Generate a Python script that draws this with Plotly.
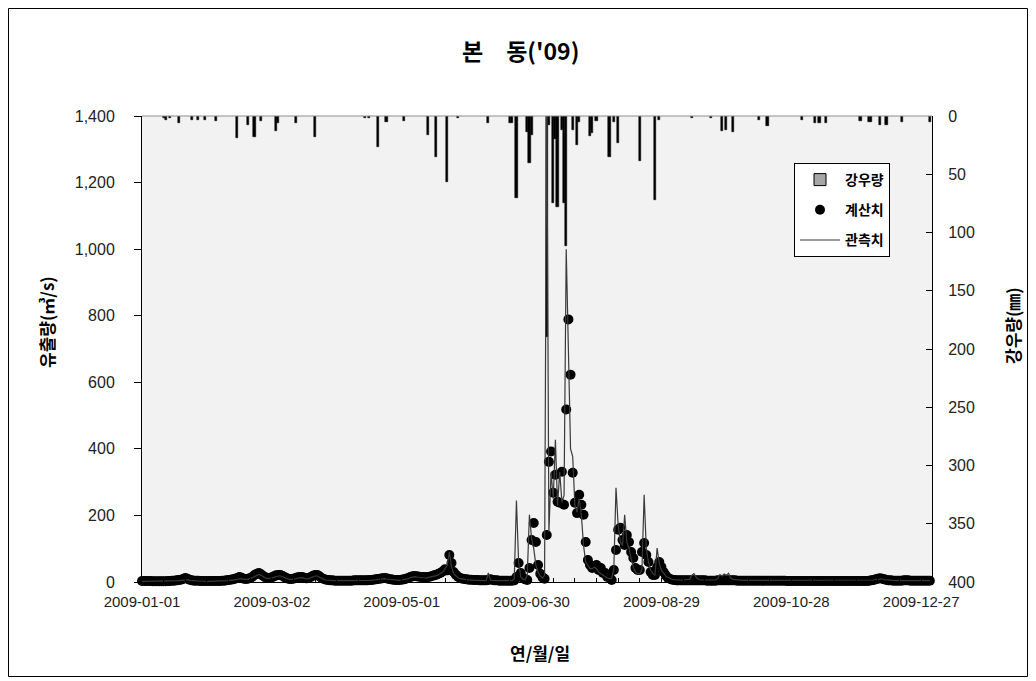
import pandas as pd
import plotly.graph_objects as go

# ---------------- data ----------------
# daily computed discharge (계산치), m3/s, 2009-01-01 .. 2009-12-31
calc_jan = [3,3,3,3,3,2,2,2,2,2, 2,2,3,3,4,4,5,6,7,9, 12,10,7,5,4,4,4,3,3,3, 3]
calc_feb = [3,3,3,3,3,3,4,4,5,6, 7,8,10,12,15,13,10,9,10,12, 16,21,25,27,23,18,14,12]
calc_mar = [12,14,17,20,21,21,18,14,11,9, 9,10,12,14,15,15,13,11,12,15, 19,21,21,17,12,9,7,6,5,5, 4]
calc_apr = [4,4,4,4,4,4,4,4,5,5, 5,5,5,5,5,6,6,7,8,9, 10,11,12,11,9,8,7,6,6,6]
calc_may = [7,8,10,12,15,17,18,17,16,15, 15,14,15,16,18,20,22,25,28,32, 38,35,81,57,30,22,16,12,10,9, 8]
calc_jun = [7,7,6,6,6,5,5,5,5,6, 8,6,5,5,4,4,4,4,4,4, 4,5,15,57,27,12,8,6,42,126]
calc_jul = [177,120,51,25,14,10,141,361,392,268, 322,241,238,331,232,518,789,623,328,238,
            207,262,232,202,120,66,51,42,45,51, 36]
calc_aug = [42,27,27,15,15,6,36,96,157,163, 126,111,141,120,90,72,42,36,36,90,
            117,81,60,30,21,21,45,60,45,30, 20]
calc_sep = [12,9,7,6,5,5,5,5,5,5, 5,5,5,5,5,5,5,5,4,4, 4,4,4,5,5,5,5,5,5,5]
calc_oct = [5,5,4,4,4,4,4,4,4,4, 4,4,4,4,4,4,4,4,4,4, 4,4,4,4,4,3,3,3,3,3, 3]
calc_nov = [3,3,3,3,3,3,3,3,3,3, 3,3,3,3,3,3,3,3,3,3, 3,3,3,3,3,3,3,3,3,3]
calc_dec = [3,3,4,5,6,8,10,11,10,8, 6,5,5,4,4,4,4,4,5,5, 5,4,4,4,4,4,4,4,4,4, 4]

# daily observed discharge (관측치), m3/s
obs_jan = [2,2,2,2,2,2,2,2,2,2, 2,2,2,3,3,3,4,4,5,6, 8,7,5,4,3,3,3,3,2,2, 2]
obs_feb = [2,2,2,2,2,3,3,3,4,4, 5,6,7,9,11,10,8,7,8,10, 13,17,21,23,20,15,12,10]
obs_mar = [10,12,14,17,18,18,15,12,9,8, 8,8,10,12,13,13,11,9,10,13, 16,18,18,14,10,8,6,5,4,4, 4]
obs_apr = [4,4,4,3,3,3,3,3,4,4, 4,4,4,4,4,5,5,6,7,8, 9,10,10,9,8,7,6,5,5,5]
obs_may = [6,7,8,10,13,15,16,15,14,13, 13,12,13,14,15,17,19,22,25,30, 40,50,90,45,25,18,13,10,8,8, 7]
obs_jun = [6,6,5,5,5,5,4,4,4,27, 6,5,4,4,4,4,4,4,4,4, 4,10,245,60,15,8,6,20,202,130]
obs_jul = [100,50,30,18,12,20,1500,150,330,250, 427,230,330,240,260,1000,650,400,377,230,
           210,250,200,110,60,50,40,40,45,40, 30]
obs_aug = [25,20,15,12,10,10,40,283,170,120, 110,202,120,100,70,45,30,25,25,40,
           262,100,60,35,25,20,102,55,35,25, 18]
obs_sep = [14,10,8,7,6,6,6,6,6,6, 8,20,25,15,8,6,6,6,6,6, 6,6,6,10,22,18,24,20,26,12]
obs_oct = [8,7,6,6,5,5,5,5,5,5, 5,5,5,5,5,5,5,5,5,5, 5,5,4,4,4,4,4,4,4,4, 4]
obs_nov = [4,4,4,4,4,4,4,4,4,4, 4,4,4,4,4,4,4,4,4,4, 4,4,4,4,4,4,4,4,4,4]
obs_dec = [4,4,4,5,6,8,9,10,9,7, 6,5,5,4,4,4,4,4,5,5, 5,4,4,4,4,4,4,4,4,4, 4]

# rainfall (강우량), mm — only rainy days listed
rain_dates = ["2009-01-11","2009-01-12","2009-01-14","2009-01-18","2009-01-24","2009-01-27","2009-01-30",
              "2009-02-04","2009-02-14","2009-02-19","2009-02-22","2009-02-25",
              "2009-03-04","2009-03-05","2009-03-13","2009-03-22",
              "2009-04-14","2009-04-16","2009-04-20","2009-04-24",
              "2009-05-02","2009-05-13","2009-05-17","2009-05-22","2009-05-27",
              "2009-06-10","2009-06-20","2009-06-21","2009-06-23","2009-06-28","2009-06-29","2009-06-30",
              "2009-07-07","2009-07-08","2009-07-10","2009-07-11","2009-07-12","2009-07-14","2009-07-15",
              "2009-07-16","2009-07-19","2009-07-21","2009-07-22","2009-07-27","2009-07-28","2009-07-30",
              "2009-08-05","2009-08-07","2009-08-09","2009-08-19","2009-08-26","2009-08-28",
              "2009-09-12","2009-09-21","2009-09-26","2009-09-28",
              "2009-10-01","2009-10-13","2009-10-17",
              "2009-11-02","2009-11-08","2009-11-10","2009-11-13","2009-11-29",
              "2009-12-03","2009-12-04","2009-12-08","2009-12-11","2009-12-18","2009-12-31"]
rain_mm = [2,3,2,6,3,3,3,
           4,19,8,18,4,
           13,6,6,18,
           2,2,27,5,
           4,16,35,57,2,
           6,6,6,70,14,40,16,
           190,8,75,20,78,12,75,
           112,12,25,5,17,15,4,
           35,5,23,39,72,3,
           2,2,13,12,
           14,3,9,
           3,6,6,6,4,
           5,5,8,8,5,5]

title_text = "본\u3000동('09)"
x_title = "연/월/일"
y_left_title = "유출량(㎥/s)"
y_right_title = "강우량(㎜)"

calc = calc_jan + calc_feb + calc_mar + calc_apr + calc_may + calc_jun + calc_jul + calc_aug + calc_sep + calc_oct + calc_nov + calc_dec
obs = obs_jan + obs_feb + obs_mar + obs_apr + obs_may + obs_jun + obs_jul + obs_aug + obs_sep + obs_oct + obs_nov + obs_dec
days = pd.date_range("2009-01-01", "2009-12-31", freq="D")

DAY = 86400000
KR = "Noto Sans CJK KR"
NUM = "Liberation Sans"
PL, PT, PW, PH = 142, 116, 790, 466


def px(x):
    return (x - PL) / PW


def py(y):
    return (PT + PH - y) / PH


fig = go.Figure()
# rainfall bars (drawn solid black like the thin bars of the original)
fig.add_trace(go.Bar(
    x=rain_dates, y=rain_mm, name="강우량", yaxis="y", legendgroup="a", showlegend=False,
    width=1.0 * DAY, marker=dict(color="black", line=dict(color="black", width=0.5)),
))
# legend entry for rainfall (grey box with black outline)
fig.add_trace(go.Bar(
    x=[None], y=[None], name="강우량", yaxis="y", legendgroup="a", showlegend=True,
    marker=dict(color="#a6a6a6", line=dict(color="black", width=1)),
))
fig.add_trace(go.Scatter(
    x=days, y=calc, name="계산치", yaxis="y2", mode="markers", legendgroup="b",
    marker=dict(color="black", size=10), cliponaxis=False,
))
fig.add_trace(go.Scatter(
    x=days, y=obs, name="관측치", yaxis="y2", mode="lines", legendgroup="c",
    line=dict(color="#3a3a3a", width=1.2),
))

ann_font = dict(family=KR, size=17, color="black", weight="bold")
fig.update_layout(
    width=1036, height=681,
    margin=dict(l=PL, r=1036 - PL - PW, t=PT, b=681 - PT - PH),
    paper_bgcolor="white", plot_bgcolor="#f2f2f2",
    bargap=0,
    showlegend=True,
    legend=dict(x=px(794), y=py(163), xanchor="left", yanchor="top",
                bgcolor="white", bordercolor="black", borderwidth=1,
                font=dict(family=KR, size=14, color="black", weight="bold"),
                traceorder="grouped", tracegroupgap=9, itemwidth=40,
                entrywidth=62, entrywidthmode="pixels"),
    xaxis=dict(
        type="date", range=["2009-01-01", "2010-01-01"],
        tick0="2009-01-01", dtick=60 * DAY, tickformat="%Y-%m-%d",
        ticks="inside", ticklen=4, tickcolor="black",
        minor=dict(dtick=10 * DAY, tick0="2009-01-01", ticks="inside", ticklen=4, tickcolor="black"),
        showline=True, linecolor="black", linewidth=1,
        showgrid=False, zeroline=False,
        tickfont=dict(family=NUM, size=15, color="#222"),
        ticklabelstandoff=6,
    ),
    yaxis=dict(
        side="right", range=[400, 0], tick0=0, dtick=50,
        ticks="inside", ticklen=6, tickcolor="black",
        showline=True, linecolor="black", linewidth=1,
        showgrid=False, zeroline=False,
        tickfont=dict(family=NUM, size=16, color="#222"),
        ticklabelstandoff=12,
    ),
    yaxis2=dict(
        overlaying="y", side="left", range=[0, 1400], tick0=0, dtick=200,
        tickformat=",d",
        ticks="outside", ticklen=7, tickcolor="black",
        showline=True, linecolor="black", linewidth=1,
        showgrid=False, zeroline=False,
        tickfont=dict(family=NUM, size=16, color="#222"),
        ticklabelstandoff=16,
    ),
    annotations=[
        dict(text=title_text, xref="paper", yref="paper", x=px(520), y=py(50),
             xanchor="center", yanchor="middle", showarrow=False,
             font=dict(family=KR, size=23, color="black", weight="bold")),
        dict(text=x_title, xref="paper", yref="paper", x=px(540), y=py(652),
             xanchor="center", yanchor="middle", showarrow=False, font=ann_font),
        dict(text=y_left_title, xref="paper", yref="paper", x=px(46), y=py(322),
             xanchor="center", yanchor="middle", showarrow=False, textangle=-90, font=ann_font),
        dict(text=y_right_title, xref="paper", yref="paper", x=px(1012), y=py(326),
             xanchor="center", yanchor="middle", showarrow=False, textangle=-90, font=ann_font),
    ],
    shapes=[
        dict(type="line", xref="paper", yref="paper", x0=0, x1=1, y0=1, y1=1,
             line=dict(color="#8c8c8c", width=1)),
        dict(type="rect", xref="paper", yref="paper",
             x0=px(8.5), x1=px(1027.5), y0=py(676.5), y1=py(8.5),
             line=dict(color="black", width=1), fillcolor="rgba(0,0,0,0)"),
    ],
)

fig.write_html("out.html")
